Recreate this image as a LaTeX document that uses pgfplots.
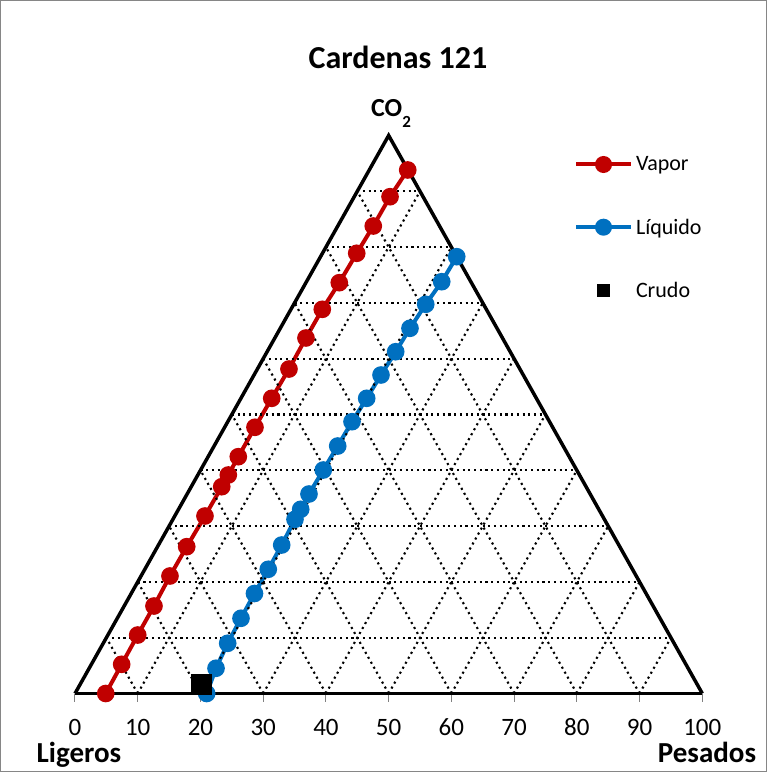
\documentclass[border=0pt]{standalone}
\usepackage{fontspec}
\setmainfont{Carlito}
\usepackage{pgfplots}
\pgfplotsset{compat=1.18}
\definecolor{vapor}{RGB}{192,0,0}
\definecolor{liq}{RGB}{0,112,192}
\definecolor{frame}{RGB}{134,134,134}
\tikzset{gridl/.style={black, line width=2.1pt, dash pattern=on 2.1pt off 3.6pt}}
\begin{document}
\begin{tikzpicture}[x=1pt,y=1pt]
\path[use as bounding box] (-75,-78.5) rectangle (692,693.5);
\fill[white] (-75,-78.5) rectangle (692,693.5);
\draw[frame, line width=1pt] (-74.5,-78) rectangle (691.5,693);
\begin{axis}[
 at={(0,0)}, anchor=south west,
 scale only axis, width=627.3pt, height=558pt,
 xmin=0, xmax=100, ymin=0, ymax=100,
 axis y line=none, axis x line*=bottom,
 x axis line style={black, line width=3pt},
 xtick={0,10,...,100},
 tick align=outside, major tick length=8pt,
 xtick style={draw=gray, line width=1pt},
 /pgf/number format/assume math mode=true,
 xticklabel style={font=\fontsize{25}{25}\selectfont, anchor=base, inner sep=0pt, yshift=-34pt},
 clip=false,
 legend style={draw=none, fill=none, at={(0.7955,0.9656)}, anchor=north west,
   inner sep=0pt, outer sep=0pt, row sep=42.5pt,
   font=\fontsize{22}{22}\selectfont,
   /tikz/every odd column/.style={column sep=1pt}},
 legend cell align=left,
 legend image code/.code={\draw[mark repeat=2, mark phase=2, #1] plot coordinates {(0pt,0pt) (27.5pt,0pt) (55pt,0pt)};},
]
\addlegendimage{vapor, line width=4pt, mark=*, mark size=6.5pt}
\addlegendentry{Vapor}
\addlegendimage{liq, line width=4pt, mark=*, mark size=6.5pt}
\addlegendentry{Líquido}
\addlegendimage{only marks, mark=square*, mark size=6pt, black}
\addlegendentry{Crudo}

% triangle
\addplot[black, line width=3.5pt, line join=miter, forget plot] coordinates {(0,0) (50,100) (100,0)};

% Vapor
\addplot[vapor, line width=4pt, mark=*, mark size=6.8pt, forget plot] coordinates {
(4.9,0) (7.44,5.23) (10.00,10.48) (12.59,15.68) (15.14,21.06) (17.81,26.31) (20.72,31.81) (23.39,37.06) (24.44,39.16) (26.03,42.44) (28.69,47.71) (31.36,52.90) (34.11,58.15) (36.82,63.71) (39.42,68.85) (42.13,73.62) (44.91,78.89) (47.55,83.78) (50.22,89.03) (53.04,93.82)};

% Liquido
\addplot[liq, line width=4pt, mark=*, mark size=6.8pt, forget plot] coordinates {
(20.99,0) (22.48,4.52) (24.34,9.00) (26.46,13.48) (28.61,17.92) (30.81,22.26) (32.95,26.61) (35.07,31.22) (35.98,33.01) (37.30,35.75) (39.58,40.05) (41.88,44.35) (44.16,48.71) (46.50,52.90) (48.78,57.08) (51.12,61.25) (53.40,65.45) (55.91,69.75) (58.46,73.80) (60.85,78.28)};

% grid
\draw[gridl] (axis cs:5,10) -- (axis cs:95,10);
\draw[gridl] (axis cs:10,20) -- (axis cs:90,20);
\draw[gridl] (axis cs:15,30) -- (axis cs:85,30);
\draw[gridl] (axis cs:20,40) -- (axis cs:80,40);
\draw[gridl] (axis cs:25,50) -- (axis cs:75,50);
\draw[gridl] (axis cs:30,60) -- (axis cs:70,60);
\draw[gridl] (axis cs:35,70) -- (axis cs:65,70);
\draw[gridl] (axis cs:40,80) -- (axis cs:60,80);
\draw[gridl] (axis cs:45,90) -- (axis cs:55,90);
\draw[gridl] (axis cs:10,0) -- (axis cs:55,90);
\draw[gridl] (axis cs:20,0) -- (axis cs:60,80);
\draw[gridl] (axis cs:30,0) -- (axis cs:65,70);
\draw[gridl] (axis cs:40,0) -- (axis cs:70,60);
\draw[gridl] (axis cs:50,0) -- (axis cs:75,50);
\draw[gridl] (axis cs:60,0) -- (axis cs:80,40);
\draw[gridl] (axis cs:70,0) -- (axis cs:85,30);
\draw[gridl] (axis cs:80,0) -- (axis cs:90,20);
\draw[gridl] (axis cs:90,0) -- (axis cs:95,10);
\draw[gridl] (axis cs:10,0) -- (axis cs:5,10);
\draw[gridl] (axis cs:20,0) -- (axis cs:10,20);
\draw[gridl] (axis cs:30,0) -- (axis cs:15,30);
\draw[gridl] (axis cs:40,0) -- (axis cs:20,40);
\draw[gridl] (axis cs:50,0) -- (axis cs:25,50);
\draw[gridl] (axis cs:60,0) -- (axis cs:30,60);
\draw[gridl] (axis cs:70,0) -- (axis cs:35,70);
\draw[gridl] (axis cs:80,0) -- (axis cs:40,80);
\draw[gridl] (axis cs:90,0) -- (axis cs:45,90);

% Crudo
\addplot[only marks, mark=square*, mark size=10pt, black, forget plot] coordinates {(20.1,1.75)};
\end{axis}
\node[anchor=base, inner sep=0pt, font=\fontsize{32}{32}\bfseries\selectfont] at (323,625.2) {Cardenas 121};
\node[anchor=base, inner sep=0pt, font=\fontsize{26}{26}\bfseries\selectfont] at (316,576.5) {CO\raisebox{-11pt}{\fontsize{17}{17}\selectfont 2}};
\node[anchor=base, inner sep=0pt, font=\fontsize{29}{29}\bfseries\selectfont] at (4,-68.5) {Ligeros};
\node[anchor=base, inner sep=0pt, font=\fontsize{29}{29}\bfseries\selectfont] at (632,-68.5) {Pesados};
\end{tikzpicture}
\end{document}
